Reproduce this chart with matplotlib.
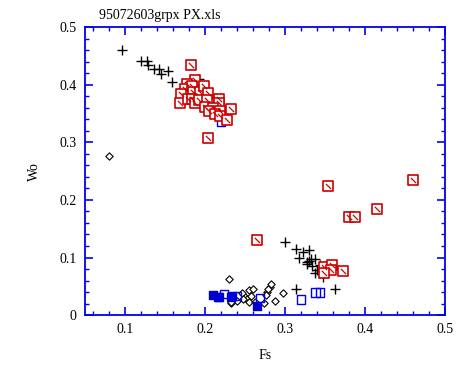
import numpy as np
import matplotlib.pyplot as plt
from matplotlib.path import Path
from matplotlib.ticker import MultipleLocator

# ----------------------------------------------------------------
# data (Fs, Wo)

cross_fs = [0.096, 0.120, 0.128, 0.129, 0.136, 0.142, 0.145, 0.154, 0.159, 0.192, 0.221,
            0.300, 0.314, 0.317, 0.322, 0.330, 0.327, 0.330, 0.332, 0.328, 0.334, 0.338,
            0.344, 0.3375, 0.340, 0.347, 0.346, 0.314, 0.363]
cross_wo = [0.461, 0.4415, 0.441, 0.435, 0.428, 0.4266, 0.419, 0.423, 0.405, 0.410, 0.361,
            0.127, 0.1146, 0.100, 0.110, 0.1128, 0.0915, 0.094, 0.0977, 0.088, 0.086, 0.098,
            0.0868, 0.0734, 0.078, 0.0665, 0.077, 0.0457, 0.0446]

red_fs = [0.182, 0.187, 0.178, 0.175, 0.184, 0.170, 0.169, 0.185, 0.194, 0.199, 0.204,
          0.179, 0.184, 0.187, 0.193, 0.202, 0.200, 0.218, 0.217, 0.210, 0.205, 0.219,
          0.212, 0.219, 0.227, 0.233, 0.204,
          0.354, 0.460, 0.415, 0.380, 0.387, 0.349, 0.359, 0.357, 0.349, 0.373, 0.265]
red_wo = [0.4335, 0.4075, 0.4005, 0.393, 0.398, 0.383, 0.3675, 0.3866, 0.3866, 0.397, 0.385,
          0.376, 0.3745, 0.369, 0.374, 0.374, 0.362, 0.3745, 0.3675, 0.359, 0.354, 0.3547,
          0.349, 0.346, 0.339, 0.357, 0.3068,
          0.225, 0.234, 0.1835, 0.1696, 0.171, 0.083, 0.0868, 0.079, 0.0734, 0.0764, 0.1296]

diam_fs = [0.080, 0.230, 0.298, 0.287, 0.232, 0.255, 0.260, 0.250, 0.253, 0.2554, 0.258,
           0.2625, 0.274, 0.277, 0.281, 0.279, 0.2825, 0.276, 0.240, 0.246, 0.248, 0.233]
diam_wo = [0.276, 0.062, 0.0376, 0.0237, 0.0203, 0.0434, 0.0446, 0.032, 0.0273, 0.023, 0.033,
           0.023, 0.0214, 0.0405, 0.049, 0.0446, 0.054, 0.0347, 0.0248, 0.0377, 0.0278, 0.023]

bfill_fs = [0.210, 0.216, 0.217, 0.233, 0.234, 0.265]
bfill_wo = [0.0347, 0.0307, 0.032, 0.032, 0.033, 0.0156]

bopen_fs = [0.220, 0.224, 0.240, 0.269, 0.320, 0.338, 0.344]
bopen_wo = [0.336, 0.0365, 0.033, 0.0295, 0.0272, 0.0394, 0.0394]

# ----------------------------------------------------------------

plt.rcParams['font.family'] = 'Liberation Serif'
blue = '#0000ee'

fig = plt.figure(figsize=(4.65, 3.66), dpi=100)
ax = fig.add_axes([0.183, 0.139, 0.774, 0.787])

ax.scatter(diam_fs, diam_wo, marker='D', s=14, facecolors='white', edgecolors='black', linewidths=0.8, zorder=2)
ax.scatter(bfill_fs, bfill_wo, marker='s', s=30, color='#0000cc', zorder=3)
ax.scatter(bopen_fs, bopen_wo, marker='s', s=36, facecolors='none', edgecolors=blue, linewidths=1.0, zorder=3)
ax.scatter(cross_fs, cross_wo, marker='+', s=60, color='black', linewidths=1.0, zorder=4)

# red square with a short diagonal stroke inside
slash = Path([(-0.5, 0.5), (0.5, -0.5)], [Path.MOVETO, Path.LINETO])
ax.scatter(red_fs, red_wo, marker='s', s=42, facecolors='white', edgecolors='#cc0000', linewidths=1.2, zorder=5)
ax.scatter(red_fs, red_wo, marker=slash, s=14, color='#cc0000', linewidths=0.9, zorder=6)

ax.set_xlim(0.05, 0.5)
ax.set_ylim(0, 0.5)
ax.xaxis.set_minor_locator(MultipleLocator(0.02))
ax.yaxis.set_minor_locator(MultipleLocator(0.02))
ax.set_xticks([0.1, 0.2, 0.3, 0.4, 0.5])
ax.set_xticklabels(['0.1', '0.2', '0.3', '0.4', '0.5'])
ax.set_yticks([0, 0.1, 0.2, 0.3, 0.4, 0.5])
ax.set_yticklabels(['0', '0.1', '0.2', '0.3', '0.4', '0.5'])

for sp in ax.spines.values():
    sp.set_color(blue)
    sp.set_linewidth(1.3)
ax.tick_params(which='both', direction='in', top=True, right=True, color=blue, labelsize=10, labelcolor='black')
ax.tick_params(which='major', length=6, width=1.2, pad=6)
ax.tick_params(which='minor', length=3, width=1.0)

ax.set_xlabel('Fs', fontsize=10, labelpad=9)
ax.set_ylabel('Wo', fontsize=10, labelpad=13)
fig.text(0.213, 0.958, '95072603grpx PX.xls', fontsize=10, ha='left', va='center')

fig.savefig('out.png', dpi=100)
